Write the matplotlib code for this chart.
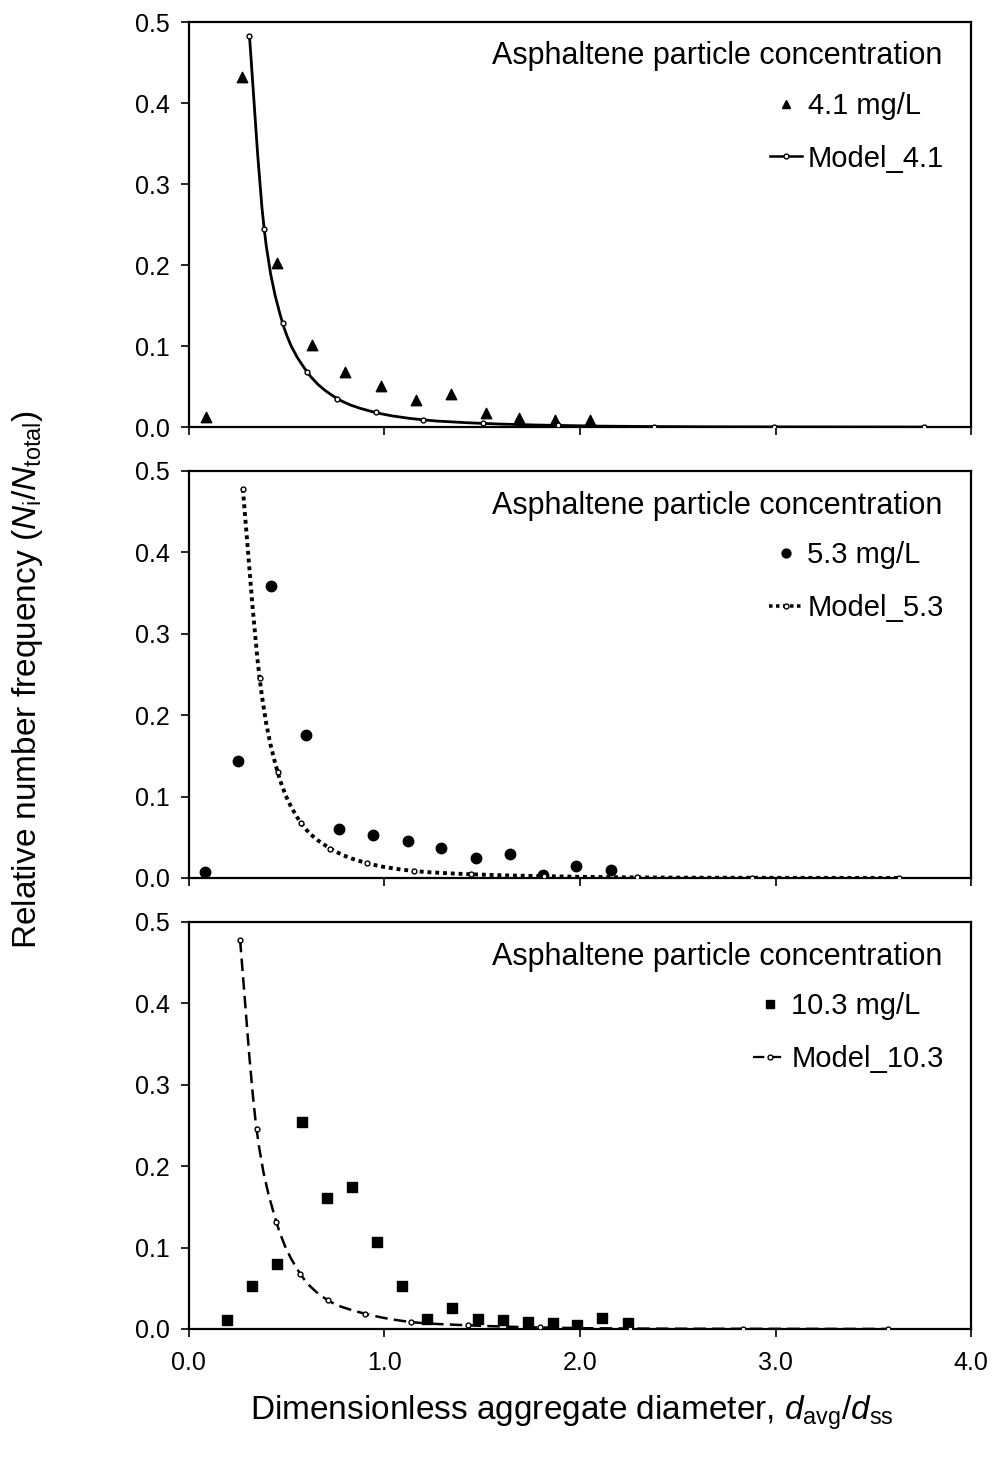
import numpy as np
import matplotlib.pyplot as plt
from matplotlib.path import Path
from matplotlib.patches import PathPatch
from matplotlib.lines import Line2D

plt.rcParams['font.family'] = ['Liberation Sans', 'DejaVu Sans']
plt.rcParams['mathtext.fontset'] = 'custom'
plt.rcParams['mathtext.rm'] = 'Liberation Sans'
plt.rcParams['mathtext.it'] = 'Liberation Sans:italic'

# --- measured points (read off the figure) ---
# 4.1 mg/L
x_data_41 = [0.09, 0.27, 0.45, 0.63, 0.80, 0.98, 1.16, 1.34, 1.52, 1.69, 1.87, 2.05]
y_data_41 = [0.012, 0.432, 0.202, 0.101, 0.068, 0.051, 0.034, 0.041, 0.017, 0.011, 0.009, 0.009]
x_model_41 = [0.31, 0.385, 0.48, 0.605, 0.76, 0.955, 1.195, 1.505, 1.885, 2.38, 2.99, 3.76]
y_model_41 = [0.483, 0.245, 0.128, 0.068, 0.035, 0.018, 0.009, 0.0045, 0.002, 0.0006, 0.0002, 0.0]

# 5.3 mg/L
x_data_53 = [0.08, 0.25, 0.42, 0.60, 0.77, 0.94, 1.12, 1.29, 1.47, 1.64, 1.81, 1.98, 2.16]
y_data_53 = [0.007, 0.144, 0.359, 0.176, 0.060, 0.053, 0.045, 0.037, 0.024, 0.029, 0.004, 0.015, 0.010]
x_model_53 = [0.276, 0.362, 0.454, 0.572, 0.724, 0.913, 1.15, 1.444, 1.814, 2.29, 2.877, 3.63]
y_model_53 = [0.478, 0.245, 0.130, 0.068, 0.036, 0.018, 0.0086, 0.0045, 0.0022, 0.0006, 0.0002, 0.0]

# 10.3 mg/L
x_data_103 = [0.194, 0.322, 0.451, 0.58, 0.708, 0.836, 0.962, 1.09, 1.219, 1.347, 1.476,
              1.604, 1.733, 1.861, 1.987, 2.115, 2.244]
y_data_103 = [0.0106, 0.053, 0.080, 0.254, 0.161, 0.174, 0.107, 0.053, 0.0126, 0.026, 0.0126,
              0.0106, 0.0085, 0.0073, 0.0053, 0.0135, 0.0073]
x_model_103 = [0.262, 0.346, 0.448, 0.569, 0.713, 0.902, 1.138, 1.429, 1.798, 2.257, 2.836, 3.575]
y_model_103 = [0.478, 0.246, 0.131, 0.068, 0.035, 0.0187, 0.0085, 0.0045, 0.0018, 0.0005, 0.0002, 0.0]

x_ticks = [0.0, 1.0, 2.0, 3.0, 4.0]
y_ticks = [0.0, 0.1, 0.2, 0.3, 0.4, 0.5]


def smooth_path(x, y):
    # Excel-like smoothed line: cubic bezier through the model points
    pts = np.column_stack([x, y])
    n = len(pts)
    verts = [pts[0]]
    codes = [Path.MOVETO]
    for i in range(n - 1):
        p0 = pts[max(i - 1, 0)]
        p1 = pts[i]
        p2 = pts[i + 1]
        p3 = pts[min(i + 2, n - 1)]
        verts += [p1 + (p2 - p0) / 6, p2 - (p3 - p1) / 6, p2]
        codes += [Path.CURVE4] * 3
    return Path(verts, codes)


panels = [
    (x_data_41, y_data_41, x_model_41, y_model_41, '^', 7.5, '4.1 mg/L', 'Model_4.1', '-', 2.0),
    (x_data_53, y_data_53, x_model_53, y_model_53, 'o', 7.5, '5.3 mg/L', 'Model_5.3', (0, (1.0, 1.0)), 2.8),
    (x_data_103, y_data_103, x_model_103, y_model_103, 's', 6.5, '10.3 mg/L', 'Model_10.3', (0, (5, 2.5)), 1.8),
]

fig = plt.figure(figsize=(9.94, 14.62), dpi=100)
bottoms = [0.7079, 0.3995, 0.0910]
heights = [0.2770, 0.2784, 0.2784]

for k, (xd, yd, xm, ym, mk, ms, lab_d, lab_m, ls, lw) in enumerate(panels):
    ax = fig.add_axes([0.190, bottoms[k], 0.787, heights[k]])
    ax.scatter(xd, yd, marker=mk, s=ms ** 2, color='black', zorder=3)
    patch = PathPatch(smooth_path(xm, ym), fill=False, edgecolor='black',
                      linewidth=lw, linestyle=ls, zorder=2)
    ax.add_patch(patch)
    ax.plot(xm, ym, linestyle='none', marker='o', markersize=3.5,
            markerfacecolor='white', markeredgecolor='black', markeredgewidth=1.0, zorder=4)

    ax.set_xlim(0, 4.0)
    ax.set_ylim(0, 0.5)
    ax.set_xticks(x_ticks)
    ax.set_yticks(y_ticks)
    ax.set_yticklabels([f'{v:.1f}' for v in y_ticks])
    if k == 2:
        ax.set_xticklabels([f'{v:.1f}' for v in x_ticks])
    else:
        ax.set_xticklabels([])
    ax.tick_params(direction='out', length=6, width=1.2, labelsize=18)
    ax.tick_params(axis='y', pad=8)
    ax.tick_params(axis='x', pad=10)
    for sp in ax.spines.values():
        sp.set_linewidth(1.6)

    ax.text(0.963, 0.915, 'Asphaltene particle concentration', transform=ax.transAxes,
            ha='right', va='center', fontsize=22)

    handles = [
        Line2D([], [], linestyle='none', marker=mk, markersize=ms * 0.85, color='black'),
        Line2D([], [], color='black', linestyle=ls, linewidth=lw * 0.9, marker='o', markersize=3.5,
               markerfacecolor='white', markeredgecolor='black'),
    ]
    ax.legend(handles, [lab_d, lab_m], loc='upper right', bbox_to_anchor=(0.965, 0.828),
              frameon=False, fontsize=21, handlelength=1.1, handletextpad=0.2,
              labelspacing=0.85, borderpad=0.0, borderaxespad=0.0)

fig.text(0.028, 0.535, r'Relative number frequency ($\mathit{N}_\mathrm{i}/\mathit{N}_\mathrm{total}$)',
         rotation=90, ha='center', va='center', fontsize=24)
fig.text(0.575, 0.034, r'Dimensionless aggregate diameter, $\mathit{d}_\mathrm{avg}/\mathit{d}_\mathrm{ss}$',
         ha='center', va='center', fontsize=24)

fig.savefig('out.png', dpi=100)
